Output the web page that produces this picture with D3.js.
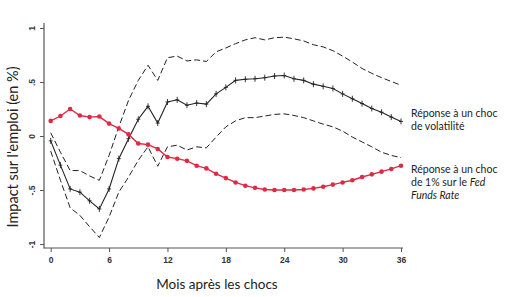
<!DOCTYPE html>
<html><head><meta charset="utf-8">
<script src="https://cdn.jsdelivr.net/npm/d3@7"></script>
<style>body{margin:0;background:#fff}svg{display:block}</style>
</head><body><svg id="c" width="517" height="297"></svg>
<script>
const months = d3.range(0, 37);
const volatilite = [-0.045,-0.27,-0.49,-0.52,-0.60,-0.675,-0.49,-0.21,-0.025,0.155,0.275,0.12,0.315,0.335,0.285,0.305,0.295,0.39,0.45,0.515,0.525,0.53,0.54,0.555,0.56,0.53,0.515,0.48,0.46,0.44,0.39,0.345,0.30,0.255,0.22,0.175,0.135];
const volHaut = [0.03,-0.15,-0.32,-0.32,-0.37,-0.41,-0.18,0.085,0.33,0.515,0.655,0.515,0.725,0.74,0.695,0.705,0.69,0.78,0.815,0.855,0.89,0.91,0.89,0.91,0.915,0.90,0.88,0.845,0.825,0.79,0.74,0.685,0.625,0.58,0.54,0.505,0.47];
const volBas = [-0.14,-0.41,-0.665,-0.735,-0.84,-0.94,-0.75,-0.52,-0.38,-0.225,-0.10,-0.28,-0.10,-0.085,-0.13,-0.10,-0.11,-0.01,0.085,0.14,0.17,0.17,0.185,0.20,0.205,0.19,0.17,0.14,0.11,0.085,0.045,-0.01,-0.055,-0.10,-0.15,-0.18,-0.20];
const fedFunds = [0.14,0.185,0.25,0.19,0.175,0.18,0.115,0.07,0.015,-0.07,-0.08,-0.12,-0.195,-0.21,-0.23,-0.275,-0.30,-0.35,-0.39,-0.43,-0.46,-0.48,-0.495,-0.50,-0.50,-0.50,-0.495,-0.485,-0.47,-0.45,-0.43,-0.41,-0.38,-0.355,-0.33,-0.305,-0.275];
const xTicks = [0,6,12,18,24,30,36];
const yTicks = [-1,-0.5,0,0.5,1];
const yTickLabels = ["-1","-.5","0",".5","1"];
const legendVol = ["Réponse à un choc","de volatilité"];
const legendFed = ["Réponse à un choc","de 1% sur le "];

const svg = d3.select("#c");
const x = d3.scaleLinear().domain([0,36]).range([50.7,401]);
const y = d3.scaleLinear().domain([-1,1]).range([244,28]);
const axisCol = "#555";

// axes
const gx = svg.append("g").attr("transform","translate(0,248)")
  .call(d3.axisBottom(x).tickValues(xTicks).tickSize(4).tickSizeOuter(0));
gx.select(".domain").remove();
gx.append("line").attr("x1",44).attr("x2",403).attr("stroke",axisCol).attr("stroke-width",1.2);
gx.selectAll(".tick line").attr("stroke",axisCol);
gx.selectAll(".tick text").attr("fill","#333").attr("font-family","Liberation Sans, Arial, sans-serif")
  .attr("font-size",8.5).attr("font-weight","bold").attr("dy","0.9em");

const gy = svg.append("g").attr("transform","translate(44,0)")
  .call(d3.axisLeft(y).tickValues(yTicks).tickFormat((d,i)=>yTickLabels[i]).tickSize(4).tickSizeOuter(0));
gy.select(".domain").remove();
gy.append("line").attr("y1",23).attr("y2",248.6).attr("stroke",axisCol).attr("stroke-width",1.2);
gy.selectAll(".tick line").attr("stroke",axisCol);
gy.selectAll(".tick text").attr("fill","#333").attr("font-family","Liberation Sans, Arial, sans-serif")
  .attr("font-size",8.5).attr("font-weight","bold")
  .attr("transform","rotate(-90)").attr("x",0).attr("y",-9).attr("dy","0").attr("text-anchor","middle");

// lines
const line = d3.line().x((d,i)=>x(months[i])).y(d=>y(d));
svg.append("path").attr("d",line(volHaut)).attr("fill","none").attr("stroke","#222").attr("stroke-width",1).attr("stroke-dasharray","6,3");
svg.append("path").attr("d",line(volBas)).attr("fill","none").attr("stroke","#222").attr("stroke-width",1).attr("stroke-dasharray","6,3");
svg.append("path").attr("d",line(volatilite)).attr("fill","none").attr("stroke","#222").attr("stroke-width",1.1);
svg.append("g").selectAll("path").data(volatilite).join("path")
  .attr("d",(d,i)=>`M${x(months[i])},${y(d)-3}v6M${x(months[i])-2},${y(d)}h4`)
  .attr("stroke","#222").attr("stroke-width",0.9);

const red = "#e02a45";
svg.append("path").attr("d",line(fedFunds)).attr("fill","none").attr("stroke",red).attr("stroke-width",1.4);
svg.append("g").selectAll("circle").data(fedFunds).join("circle")
  .attr("cx",(d,i)=>x(months[i])).attr("cy",d=>y(d)).attr("r",2.3).attr("fill",red);

// legend texts
const lf = "Lato, 'Open Sans', sans-serif";
svg.append("g").selectAll("text").data(legendVol).join("text")
  .attr("x",411).attr("y",(d,i)=>117+i*13).text(d=>d)
  .attr("font-family",lf).attr("font-size",10.5).attr("fill","#222");
const tf = svg.append("g").selectAll("text").data(legendFed).join("text")
  .attr("x",411).attr("y",(d,i)=>173+i*13)
  .attr("font-family",lf).attr("font-size",10.5).attr("fill","#222");
tf.text(d=>d);
tf.filter((d,i)=>i===1).append("tspan").attr("font-style","italic").text("Fed");
svg.append("text").attr("x",411).attr("y",199).attr("font-family",lf).attr("font-size",10.5)
  .attr("fill","#222").attr("font-style","italic").text("Funds Rate");

// axis titles
svg.append("text").attr("x",217).attr("y",289).attr("text-anchor","middle")
  .attr("font-family",lf).attr("font-size",13.5).attr("fill","#222").text("Mois après les chocs");
svg.append("text").attr("transform","translate(18,147) rotate(-90)").attr("text-anchor","middle")
  .attr("font-family",lf).attr("font-size",14.5).attr("fill","#222").text("Impact sur l'emploi (en %)");
</script></body></html>
